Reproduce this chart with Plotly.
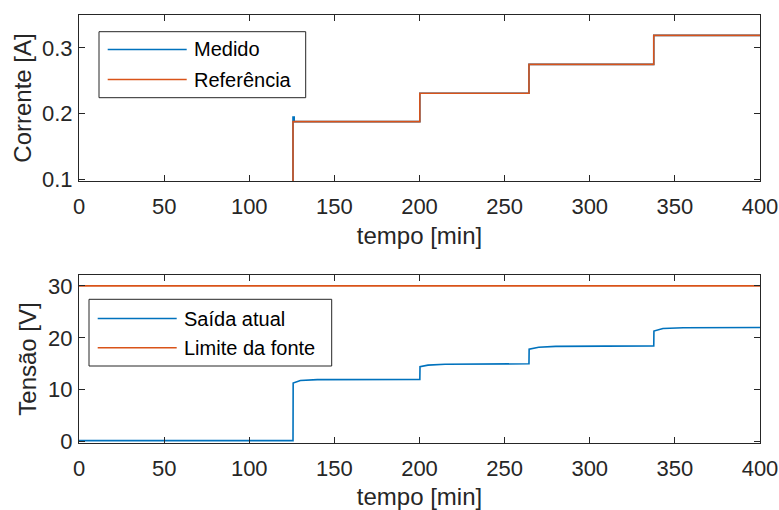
import plotly.graph_objects as go

# Current step test: time [min] and current [A]
t_ref = [0, 125.7, 200.2, 264.3, 337.6, 400]
i_ref = [0.0, 0.188, 0.231, 0.275, 0.319, 0.319]

t_med = [0, 125.7, 126.4, 200.2, 264.3, 337.6, 400]
i_med = [0.0, 0.195, 0.188, 0.231, 0.275, 0.319, 0.319]

# Supply output voltage [V]
t_v = [0, 125.7, 125.8, 130, 140, 200.2, 200.3, 205, 215,
       264.3, 264.4, 270, 280, 337.6, 337.7, 343, 355, 400]
v_out = [0.2, 0.2, 11.3, 11.8, 11.95, 12.0, 14.45, 14.75, 14.9,
         15.0, 17.8, 18.2, 18.35, 18.45, 21.3, 21.8, 21.95, 22.0]

t_lim = [0, 400]
v_lim = [30, 30]

x_ticks = [0, 50, 100, 150, 200, 250, 300, 350, 400]
i_ticks = [0.1, 0.2, 0.3]
v_ticks = [0, 10, 20, 30]

BLUE = "#0072BD"
ORANGE = "#D95319"
AX = "#262626"
FONT = "Liberation Sans, Arial, sans-serif"
W, H = 779, 510

fig = go.Figure()
fig.add_trace(go.Scatter(x=t_med, y=i_med, mode="lines", line_shape="hv",
                         line=dict(color=BLUE, width=1.6), name="Medido",
                         xaxis="x", yaxis="y", showlegend=False))
fig.add_trace(go.Scatter(x=t_ref, y=i_ref, mode="lines", line_shape="hv",
                         line=dict(color=ORANGE, width=1.6), name="Referência",
                         xaxis="x", yaxis="y", showlegend=False))
fig.add_trace(go.Scatter(x=t_v, y=v_out, mode="lines",
                         line=dict(color=BLUE, width=1.6), name="Saída atual",
                         xaxis="x2", yaxis="y2", showlegend=False))
fig.add_trace(go.Scatter(x=t_lim, y=v_lim, mode="lines",
                         line=dict(color=ORANGE, width=1.6), name="Limite da fonte",
                         xaxis="x2", yaxis="y2", showlegend=False))


def px(x):
    return x / W


def py(y):
    return 1 - y / H


axis_common = dict(showline=True, linecolor=AX, linewidth=1, mirror="ticks",
                   ticks="inside", ticklen=6, tickcolor=AX, tickwidth=1,
                   showgrid=False, zeroline=False, automargin=False,
                   tickfont=dict(family=FONT, size=22, color=AX))

x_dom = [px(79), px(760)]
fig.update_layout(
    width=W, height=H,
    margin=dict(l=0, r=0, t=0, b=0),
    paper_bgcolor="white", plot_bgcolor="white",
    font=dict(family=FONT, color=AX),
    xaxis=dict(domain=x_dom, range=[0, 400], tickvals=x_ticks, anchor="y",
               ticklabelstandoff=6,
               title=dict(text="tempo [min]", font=dict(size=24, color=AX), standoff=8),
               **axis_common),
    yaxis=dict(domain=[py(181), py(15)], range=[0.0977, 0.35], tickvals=i_ticks,
               tickformat=".1f", anchor="x", ticklabelstandoff=1,
               title=dict(text="Corrente [A]", font=dict(size=24, color=AX), standoff=3),
               **axis_common),
    xaxis2=dict(domain=x_dom, range=[0, 400], tickvals=x_ticks, anchor="y2",
                ticklabelstandoff=6,
                title=dict(text="tempo [min]", font=dict(size=24, color=AX), standoff=9),
                **axis_common),
    yaxis2=dict(domain=[py(443), py(275)], range=[-0.25, 32.1], tickvals=v_ticks,
                anchor="x2", ticklabelstandoff=1,
                title=dict(text="Tensão [V]", font=dict(size=24, color=AX), standoff=4),
                **axis_common),
)

# Legend boxes drawn in paper coordinates
shapes = []
annotations = []


def legend(box, entries):
    x0, y0, x1, y1 = box
    shapes.append(dict(type="rect", xref="paper", yref="paper",
                       x0=px(x0), x1=px(x1), y0=py(y1), y1=py(y0),
                       line=dict(color=AX, width=1), fillcolor="white", layer="above"))
    for (lx0, lx1, ly, tx, label, color) in entries:
        shapes.append(dict(type="line", xref="paper", yref="paper",
                           x0=px(lx0), x1=px(lx1), y0=py(ly), y1=py(ly),
                           line=dict(color=color, width=1.6), layer="above"))
        annotations.append(dict(xref="paper", yref="paper", x=px(tx), y=py(ly),
                                xanchor="left", yanchor="middle", showarrow=False,
                                text=label, font=dict(family=FONT, size=20, color="black")))


legend((99, 31.7, 305.7, 97.7),
       [(107.7, 186.7, 49.5, 192, "Medido", BLUE),
        (107.7, 186.7, 79.5, 192, "Referência", ORANGE)])
legend((89, 299.3, 331.7, 366),
       [(97.7, 176.7, 318.5, 181.5, "Saída atual", BLUE),
        (97.7, 176.7, 347.7, 181.5, "Limite da fonte", ORANGE)])

fig.update_layout(shapes=shapes, annotations=annotations)
fig.write_html("out.html")
